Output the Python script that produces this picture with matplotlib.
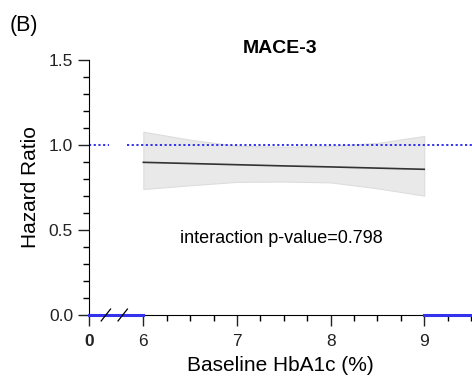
import numpy as np
from matplotlib import pyplot as plt

plt.rcParams['font.family'] = ['Liberation Sans', 'DejaVu Sans']

# fitted hazard ratio vs baseline HbA1c
hba1c = [6.0, 6.5, 7.0, 7.5, 8.0, 8.5, 9.0]
hr = [0.898, 0.891, 0.884, 0.877, 0.871, 0.864, 0.857]
upper = [1.078, 1.031, 0.995, 0.99, 0.995, 1.012, 1.053]
lower = [0.741, 0.763, 0.783, 0.785, 0.78, 0.745, 0.702]

xticks = [5.42, 6, 7, 8, 9]
xticklabels = ['0', '6', '7', '8', '9']
yticks = [0.0, 0.5, 1.0, 1.5]
pvalue_text = 'interaction p-value=0.798'

fig = plt.figure(figsize=(4.72, 3.79), dpi=100)
ax = fig.add_axes([0.1886, 0.1689, 0.8114, 0.6728])

ax.fill_between(hba1c, lower, upper, color='#e9e9e9', edgecolor='#dddddd', lw=0.8, zorder=1)
ax.plot(hba1c, hr, color='#333333', lw=1.2, zorder=3)

# reference line at HR = 1, interrupted at the axis break
ax.plot([5.42, 5.63], [1.0, 1.0], color='#2222ee', ls=(0, (1.2, 1.4)), lw=1.3, zorder=2)
ax.plot([5.83, 9.51], [1.0, 1.0], color='#2222ee', ls=(0, (1.2, 1.4)), lw=1.3, zorder=2)

# blue baseline pieces at HR = 0
ax.plot([5.42, 6.0], [0, 0], color='#3333ee', lw=2.2, clip_on=False, zorder=4)
ax.plot([9.0, 9.51], [0, 0], color='#3333ee', lw=2.2, clip_on=False, zorder=4)

# axis break marks
for xb in [5.6, 5.78]:
    ax.plot([xb - 0.05, xb + 0.05], [-0.035, 0.035], color='black', lw=0.9,
            clip_on=False, zorder=5)

ax.text(7.47, 0.45, pvalue_text, ha='center', va='center', fontsize=13)

ax.set_xlim(5.42, 9.51)
ax.set_ylim(0, 1.5)
ax.set_xticks(xticks)
ax.set_xticklabels(xticklabels)
ax.get_xticklabels()[0].set_fontweight('bold')
ax.set_xticks(np.arange(6, 9.6, 0.25), minor=True)
ax.set_yticks(yticks)
ax.set_yticklabels(['0.0', '0.5', '1.0', '1.5'])
ax.set_yticks(np.arange(0, 1.51, 0.1), minor=True)

ax.spines['top'].set_visible(False)
ax.spines['right'].set_visible(False)
ax.tick_params(axis='both', which='major', length=8, width=1, labelsize=12.5, colors='#222222')
ax.tick_params(axis='both', which='minor', length=4.5, width=1)
ax.tick_params(axis='x', pad=6)

ax.set_xlabel('Baseline HbA1c (%)', fontsize=15, labelpad=5)
ax.set_ylabel('Hazard Ratio', fontsize=15, labelpad=6)
ax.set_title('MACE-3', fontsize=14, fontweight='bold', pad=5)
fig.text(0.02, 0.96, '(B)', fontsize=15.5, ha='left', va='top')

fig.savefig('out.png', dpi=100)
